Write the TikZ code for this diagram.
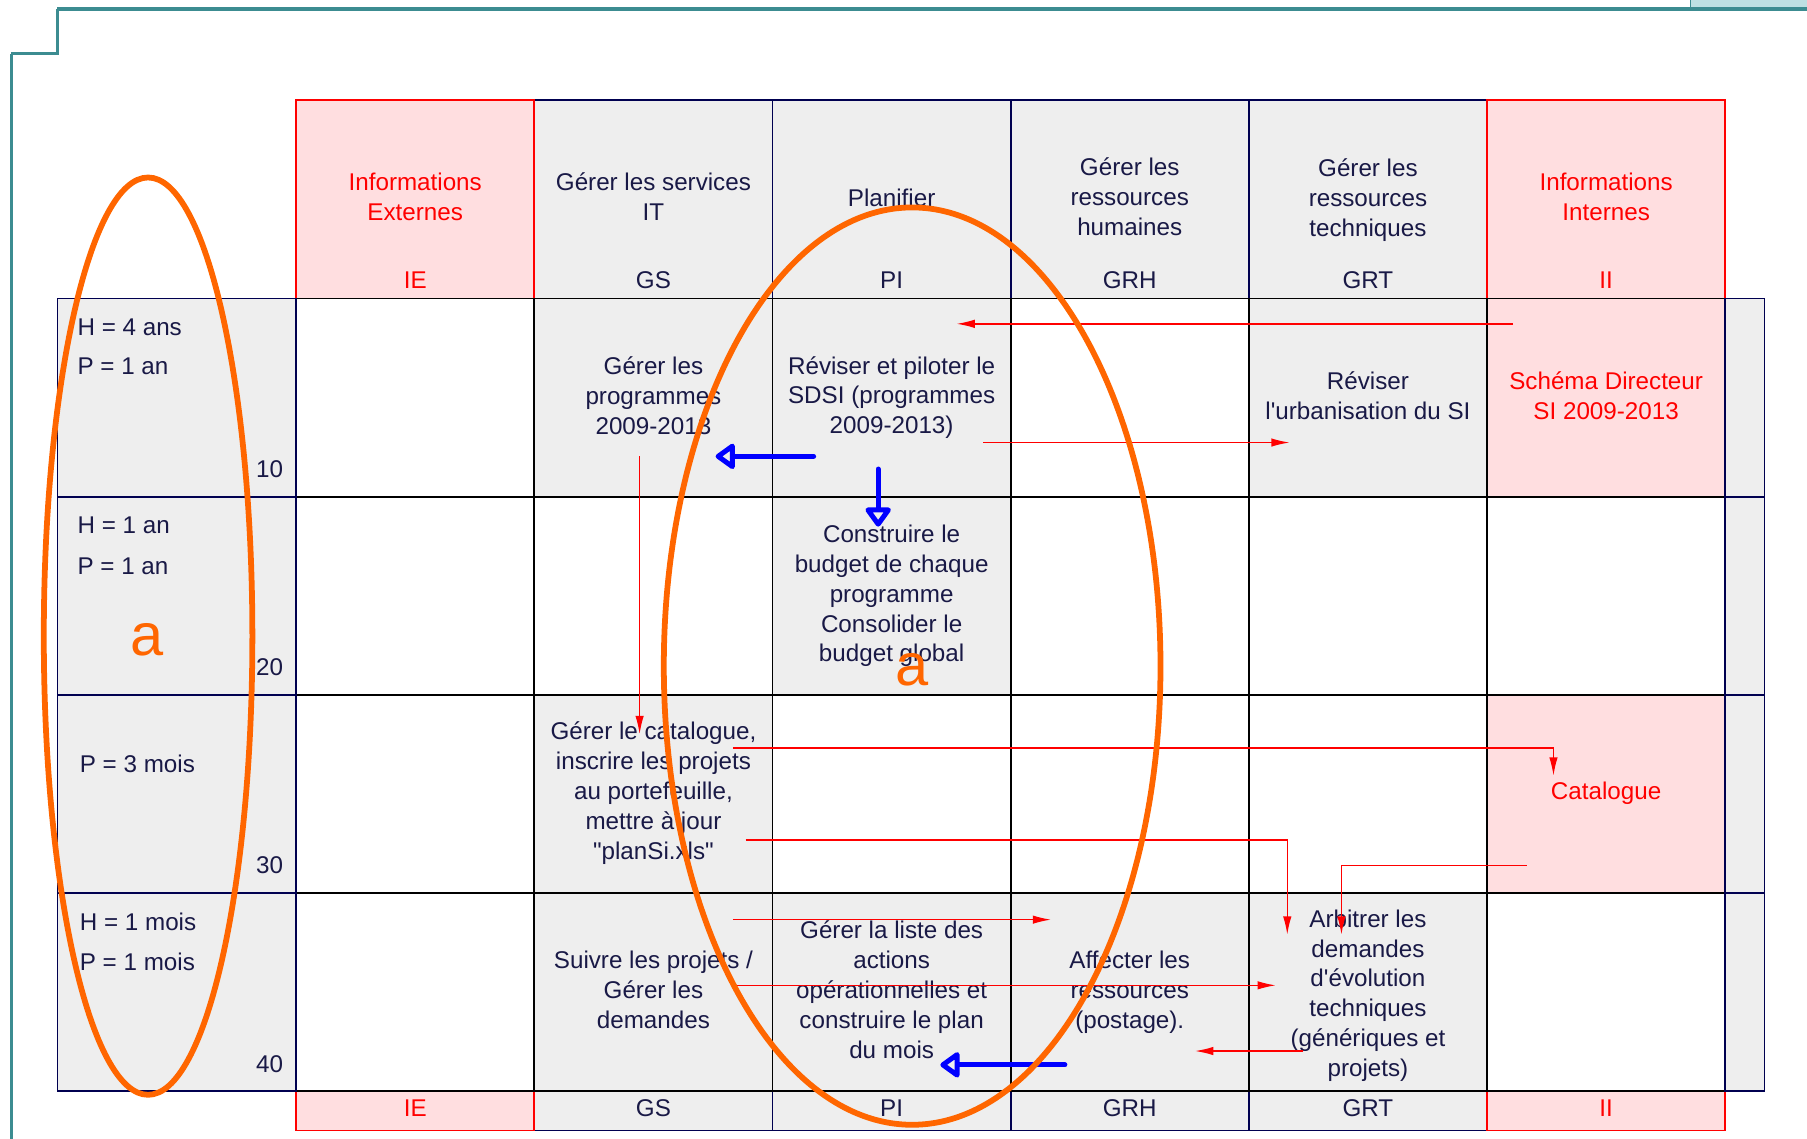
\documentclass[tikz,border=0pt]{standalone}
\usepackage{fontspec}
\setmainfont{Liberation Sans}[Ligatures=TeXOff]
\usetikzlibrary{arrows.meta,shapes.geometric}
\definecolor{navy}{RGB}{0,0,80}
\definecolor{txtc}{RGB}{25,25,70}
\definecolor{cgrey}{RGB}{238,238,238}
\definecolor{cpink}{RGB}{255,222,224}
\definecolor{cred}{RGB}{255,0,0}
\definecolor{corange}{RGB}{255,102,0}
\definecolor{cblue}{RGB}{0,0,255}
\definecolor{tealc}{RGB}{60,140,145}
\definecolor{lcyan}{RGB}{190,224,227}
\newcommand\cellfont{\fontsize{12.6}{15.6}\selectfont}
\begin{document}
\begin{tikzpicture}[x=0.6pt,y=-0.6pt,
  cell/.style={draw=black, line width=1pt, minimum width=124pt, minimum height=103.2pt, inner sep=0pt, outer sep=0pt},
  lcell/.style={draw=navy, fill=cgrey, line width=0.9pt, minimum width=124.2pt, minimum height=103.2pt, inner sep=0pt, outer sep=0pt},
  rcell/.style={draw=navy, fill=cgrey, line width=0.9pt, minimum width=20.4pt, minimum height=103.2pt, inner sep=0pt, outer sep=0pt},
  hcell/.style={line width=0.9pt, minimum width=124pt, minimum height=103.2pt, inner sep=0pt, outer sep=0pt},
  fcell/.style={line width=0.9pt, minimum width=124pt, minimum height=20.4pt, inner sep=0pt, outer sep=0pt},
  ctxt/.style={text=txtc, align=center, font=\cellfont, inner sep=0pt},
  rtxt/.style={text=cred, align=center, font=\cellfont, inner sep=0pt},
  ltxt/.style={text=txtc, font=\cellfont, inner sep=0pt},
  redarr/.style={draw=cred, line width=0.7pt, -{Latex[length=9.5pt,width=4.4pt]}},
  bluearr/.style={draw=cblue, line width=2.6pt, line cap=round, line join=round, -{Triangle[open,length=11pt,width=15pt,line join=round]}},
  oval/.style={draw=corange, line width=3pt, ellipse, inner sep=0pt},
  bigA/.style={text=corange, font=\fontsize{31}{31}\selectfont, inner sep=0pt}
]
\useasboundingbox (0,0) rectangle (1568,988);
% frame
\fill[lcyan] (1467,0) rectangle (1568,6.5);
\draw[tealc, line width=0.8pt] (1467,0) -- (1467,7);
\draw[tealc, line width=1.8pt] (49.5,7.8) -- (1568,7.8);
\draw[tealc, line width=1.6pt] (50,7.8) -- (50,46.5);
\draw[tealc, line width=1.8pt] (9.5,46.5) -- (50.8,46.5);
\draw[tealc, line width=1.6pt] (10,46.5) -- (10,988);

% header cells
\foreach \c/\fc/\dc in {2/cgrey/navy,3/cgrey/navy,4/cgrey/navy,5/cgrey/navy,1/cpink/cred,6/cpink/cred}{
  \node[hcell, fill=\fc, draw=\dc] (h\c) at ({257+206.667*(\c-0.5)},173) {};
  \node[fcell, fill=\fc, draw=\dc] (f\c) at ({257+206.667*(\c-0.5)},964) {};
}
% body cells
\foreach \r/\c/\fc in {1/1/white,1/2/cgrey,1/3/cgrey,1/4/white,1/5/cgrey,1/6/cpink,
 2/1/white,2/2/white,2/3/cgrey,2/4/white,2/5/white,2/6/white,
 3/1/white,3/2/cgrey,3/3/white,3/4/white,3/5/white,3/6/cpink,
 4/1/white,4/2/cgrey,4/3/cgrey,4/4/cgrey,4/5/cgrey,4/6/white}{
  \node[cell, fill=\fc] (c\r\c) at ({257+206.667*(\c-0.5)},{259+172*(\r-0.5)}) {};
}
\foreach \r in {1,...,4}{
  \node[lcell] (l\r) at (153.5,{259+172*(\r-0.5)}) {};
  \node[rcell] (x\r) at (1514,{259+172*(\r-0.5)}) {};
}

% header texts
\node[rtxt] (hT1) at (360.3,171) {Informations\\Externes};
\node[ctxt] (hT2) at (567,171) {Gérer les services\\IT};
\node[ctxt] (hT3) at (773.7,172) {Planifier};
\node[ctxt] (hT4) at (980.3,171) {Gérer les\\ressources\\humaines};
\node[ctxt] (hT5) at (1187,173.5) {Gérer les\\ressources\\techniques};
\node[rtxt] (hT6) at (1393.7,171) {Informations\\Internes};
\node[rtxt] (hC1) at (360.3,243) {IE};
\node[ctxt] (hC2) at (567,243) {GS};
\node[ctxt] (hC3) at (773.7,243) {PI};
\node[ctxt] (hC4) at (980.3,243) {GRH};
\node[ctxt] (hC5) at (1187,243) {GRT};
\node[rtxt] (hC6) at (1393.7,243) {II};
% footer texts
\node[rtxt] (fC1) at (360.3,962) {IE};
\node[ctxt] (fC2) at (567,962) {GS};
\node[ctxt] (fC3) at (773.7,962) {PI};
\node[ctxt] (fC4) at (980.3,962) {GRH};
\node[ctxt] (fC5) at (1187,962) {GRT};
\node[rtxt] (fC6) at (1393.7,962) {II};

% left column texts
\node[ltxt, anchor=west] (lA1) at (67,284) {H = 4 ans};
\node[ltxt, anchor=west] (lB1) at (67,318) {P = 1 an};
\node[ltxt, anchor=east] (lN1) at (246,407) {10};
\node[ltxt, anchor=west] (lA2) at (67,456) {H = 1 an};
\node[ltxt, anchor=west] (lB2) at (67,491) {P = 1 an};
\node[ltxt, anchor=east] (lN2) at (246,579) {20};
\node[ltxt, anchor=west] (lB3) at (69,663) {P = 3 mois};
\node[ltxt, anchor=east] (lN3) at (246,751) {30};
\node[ltxt, anchor=west] (lA4) at (69,800) {H = 1 mois};
\node[ltxt, anchor=west] (lB4) at (69,835) {P = 1 mois};
\node[ltxt, anchor=east] (lN4) at (246,923) {40};

% cell texts
\node[ctxt] (t12) at (567,343) {Gérer les\\programmes\\2009-2013};
\node[ctxt] (t13) at (773.7,345) {Réviser et piloter le\\SDSI (programmes\\2009-2013)};
\node[ctxt] (t15) at (1187,343) {Réviser\\l'urbanisation du SI};
\node[rtxt] (t16) at (1393.7,343) {Schéma Directeur\\SI 2009-2013};
\node[ctxt] (t23) at (773.7,517) {Construire le\\budget de chaque\\programme\\Consolider le\\budget global};
\node[ctxt] (t32) at (567,688) {Gérer le catalogue,\\inscrire les projets\\au portefeuille,\\mettre à jour\\"planSi.xls"};
\node[rtxt] (t36) at (1393.7,688) {Catalogue};
\node[ctxt] (t42) at (567,859) {Suivre les projets /\\Gérer les\\demandes};
\node[ctxt] (t43) at (773.7,859) {Gérer la liste des\\actions\\opérationnelles et\\construire le plan\\du mois};
\node[ctxt] (t44) at (980.3,861) {Affecter les\\ressources\\(postage).};
\node[ctxt] (t45) at (1187,864) {Arbitrer les\\demandes\\d'évolution\\techniques\\(génériques et\\projets)};

% connector ends
\coordinate (r1s) at (1313,281); \coordinate (r1e) at (830,281);
\coordinate (r2s) at (853,384); \coordinate (r2e) at (1119,384);
\coordinate (r3s) at (555,396); \coordinate (r3e) at (555,637);
\coordinate (r4s) at (636,649); \coordinate (r4e) at (1348,673);
\coordinate (r5s) at (647,729); \coordinate (r5e) at (1117,811);
\coordinate (r6s) at (1325,751); \coordinate (r6e) at (1164,811);
\coordinate (r7s) at (636,798); \coordinate (r7e) at (912,798);
\coordinate (r8s) at (636,855); \coordinate (r8e) at (1107,855);
\coordinate (r9s) at (1131,912); \coordinate (r9e) at (1037,912);
\coordinate (b1s) at (706,396); \coordinate (b1e) at (621,396);
\coordinate (b2s) at (762,407); \coordinate (b2e) at (762,457);
\coordinate (b3s) at (924,924); \coordinate (b3e) at (816,924);

\draw[redarr] (r1s) -- (r1e);
\draw[redarr] (r2s) -- (r2e);
\draw[redarr] (r3s) -- (r3e);
\draw[redarr] (r4s) -| (r4e);
\draw[redarr] (r5s) -| (r5e);
\draw[redarr] (r6s) -| (r6e);
\draw[redarr] (r7s) -- (r7e);
\draw[redarr] (r8s) -- (r8e);
\draw[redarr] (r9s) -- (r9e);
\draw[bluearr] (b1s) -- (b1e);
\draw[bluearr] (b2s) -- (b2e);
\draw[bluearr] (b3s) -- (b3e);

% orange ovals
\node[oval, minimum width=108.6pt, minimum height=477.6pt] (o1) at (128.5,552) {};
\node[oval, minimum width=258.6pt, minimum height=477.6pt] (o2) at (791.5,578) {};
\node[bigA] (a1) at (128,555) {a};
\node[bigA] (a2) at (791,581) {a};
\end{tikzpicture}
\end{document}
